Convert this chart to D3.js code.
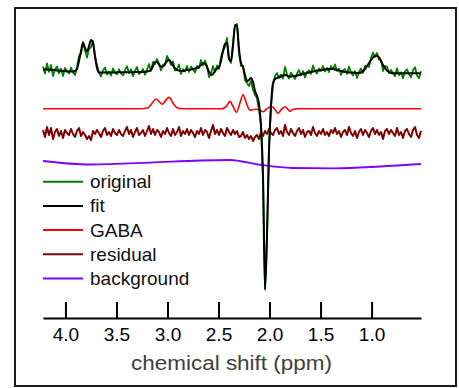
<!DOCTYPE html>
<html><head><meta charset="utf-8">
<script src="https://cdn.jsdelivr.net/npm/d3@7"></script>
<style>html,body{margin:0;padding:0;background:#fff;}svg{display:block;}</style>
</head><body>
<svg id="chart" width="459" height="388"></svg>
<script>
// ---- data ----
const ppmStart = 4.22;      // first sample (ppm)
const ppmStep = 0.0196;     // sample spacing (ppm)

const fit = [
 1.5,1.5,1.5,1.2,1,1,0.8,0.5,0.5,0.3,0,0,-0.3,-0.5,-0.5,-0.5,0,
 2,10,20,28,23,19.5,25,31,28,15,3,-1.5,
 -1.5,-1.5,-1.5,-1.5,-1.5,-1.5,-1.5,-1.5,-1.3,-1.3,-1.3,-1.3,-1.3,-1.2,-1.2,-1.2,-1.2,-1,-1,-1,-1,-1,-0.8,-0.5,0,
 1,5,9,9,6.5,4.5,4.5,7,10,11,9,5.5,2.5,1,0.5,0,0,0.5,1,1,1.5,2,2.5,3,4,6,7.5,7.5,4,-1,-4,-3,0,2.5,4,10,
 20,27,28,12,10,25,46,45,22,8,4,-4,-10,-9,-7,-11,-20,-25,-33,-55,-105,-219,-165,-80,-35,-12,-8,-7,-6,-5.5,
 -4.5,-4,-4.5,-5.5,-5.5,-5,-5,-4.5,-4,-3.5,-3,-2.5,-2,-1.5,-1,-0.5,0,0.5,0.5,1,1,1.5,2,2,2,2,1.5,1,0.5,0,
 -0.5,-1,-1,-1.5,-1.5,-1.5,-2,-2,-2,-1.5,0,2,5,8,11,13.5,15,15,13.5,10,6,3,0.5,-1,-2,
 -2.3,-2.3,-2.3,-2.3,-2.3,-2.3,-2.3,-2.3,-2.3,-2.3,-2.3,-2.3,-2.3,-2.3,-2.3
];

const residual = [
 3,-4,6,-2,5,-6,1,4,-3,2,-5,3,0,-2,4,-1,-4,2,5,-3,
 1,-2,-6,-3,-7,2,-1,3,0,-4,2,5,-2,1,-3,4,0,-2,3,-1,
 -3,2,6,-1,3,-4,1,5,-2,0,3,-3,2,7,-1,4,-2,3,1,-4,
 2,-1,5,0,-3,4,-2,1,6,-3,2,-1,4,-2,3,0,-4,2,-1,5,
 -2,3,1,-5,2,8,-1,3,-2,4,0,-3,5,1,-2,3,-1,2,-4,-3,
 1,-5,-2,-6,-3,-8,-4,-2,-6,1,-3,2,-1,4,0,-2,3,5,-1,2,
 -3,8,1,-2,4,0,-3,2,5,-1,3,-4,1,2,-2,6,0,-3,2,-1,
 4,-2,1,-3,3,0,5,-1,2,-4,1,3,-2,6,0,-3,2,-5,1,4,
 -2,3,0,-4,2,5,-1,3,-2,1,-6,2,4,-1,3,0,-3,5,-2,1,
 -5,2,4,-1,-4,3,6,-2,-5,2
];

const gabaPpm = [4.22,3.269,3.191,3.151,3.112,3.053,2.985,2.936,2.896,2.847,2.465,2.426,2.387,2.357,2.323,2.289,2.259,2.225,2.191,2.142,2.102,2.063,2.024,1.980,1.945,1.916,1.882,1.847,1.798,1.769,1.730,0.514];
const gabaVal = [0,0,1,5.5,9.7,4.5,11.3,4,0.5,0,0,2,7.3,2,-3.5,6,14,5,-1.5,-0.5,-1,-3,0,2.5,-1,-4.5,-0.5,2,-2.5,-0.5,0,0];

const bgPpm = [4.22,3.759,3.171,2.681,2.387,2.112,1.779,1.357,0.916,0.514];
const bgVal = [3,-0.5,1.3,3.5,4,-0.5,-4,-4.3,-2.5,0];

const tickValues = [4.0,3.5,3.0,2.5,2.0,1.5,1.0];
const tickLabels = ["4.0","3.5","3.0","2.5","2.0","1.5","1.0"];
const legendNames = ["original","fit","GABA","residual","background"];
const legendColors = ["#008000","#000000","#ff0000","#800000","#8000ff"];
const xTitle = "chemical shift (ppm)";

// ---- build ----
const N = fit.length;
const ppm = d3.range(N).map(i => ppmStart - i * ppmStep);
const original = fit.map((f, i) => f + residual[i]);

const svg = d3.select("#chart");
svg.append("rect").attr("x",15).attr("y",8).attr("width",441).attr("height",378)
  .attr("fill","#fff").attr("stroke","#1a1a1a").attr("stroke-width",2);

const x = d3.scaleLinear().domain([ppmStart, ppmStart - (N-1)*ppmStep]).range([43, 421]);
const y = d3.scaleLinear().domain([-247, 66]).range([318, 5]);

function lineFor(xs, vs, off, curve) {
  return d3.line().x((d,i) => x(xs[i])).y((d,i) => y(vs[i] + off)).curve(curve || d3.curveLinear)(vs);
}

const g = svg.append("g").attr("fill","none").attr("stroke-linejoin","round");
g.append("path").attr("d", lineFor(bgPpm, bgVal, -93, d3.curveMonotoneX)).attr("stroke", legendColors[4]).attr("stroke-width",1.8);
g.append("path").attr("d", lineFor(ppm, residual, -62)).attr("stroke", legendColors[3]).attr("stroke-width",2);
g.append("path").attr("d", lineFor(gabaPpm, gabaVal, -37.7, d3.curveMonotoneX)).attr("stroke", legendColors[2]).attr("stroke-width",1.6);
g.append("path").attr("d", lineFor(ppm, original, 0)).attr("stroke", legendColors[0]).attr("stroke-width",1.8);
g.append("path").attr("d", lineFor(ppm, fit, 0, d3.curveMonotoneX)).attr("stroke", legendColors[1]).attr("stroke-width",2);

// axis
const axis = d3.axisBottom(x).tickValues(tickValues)
  .tickFormat((d,i) => tickLabels[i]).tickSizeInner(-16).tickSizeOuter(0).tickPadding(10);
const ax = svg.append("g").attr("transform","translate(0,318)").call(axis);
ax.select(".domain").attr("stroke","#000").attr("stroke-width",2);
ax.selectAll(".tick line").attr("stroke","#000").attr("stroke-width",2);
ax.selectAll(".tick text").attr("fill","#000").style("font-family","'Liberation Sans', Arial, sans-serif").style("font-size","19px");

svg.append("text").attr("x",231.5).attr("y",370).attr("text-anchor","middle")
  .attr("textLength",201).attr("lengthAdjust","spacingAndGlyphs")
  .style("font-family","'Liberation Sans', Arial, sans-serif").style("font-size","20px")
  .attr("fill","#404040").text(xTitle);

// legend
const lg = svg.append("g");
legendNames.forEach((name, k) => {
  const ly = 181.7 + 24.2 * k;
  lg.append("line").attr("x1",43).attr("x2",83).attr("y1",ly).attr("y2",ly)
    .attr("stroke",legendColors[k]).attr("stroke-width",2);
  lg.append("text").attr("x",90).attr("y",ly + 6.5)
    .style("font-family","'Liberation Sans', Arial, sans-serif").style("font-size","19px")
    .attr("fill","#111").text(name);
});
</script>
</body></html>
